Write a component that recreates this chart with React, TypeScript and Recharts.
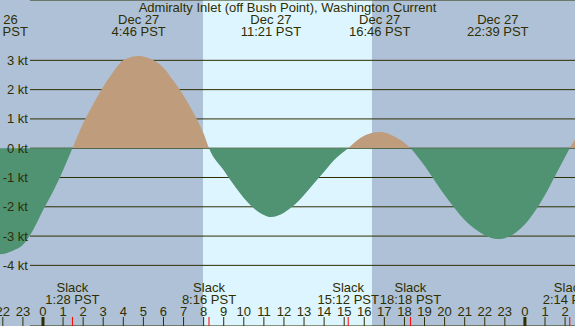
import { ComposedChart, Area, Scatter, XAxis, YAxis, CartesianGrid } from "recharts";

const W = 575;
const H = 326;
const INK = "#2e2e02";
const NIGHT = "#afc1d6";
const DAY = "#ddf5fe";
const FLOOD = "#bf9c7c";
const EBB = "#4f9373";
const FONT = '"Liberation Sans", Arial, sans-serif';

const TITLE = "Admiralty Inlet (off Bush Point), Washington Current";

// hours since Dec 27 00:00 PST, current in knots
const hours = [
  -2.6, -2.17, -1.5, -1, -0.5, 0, 0.5, 1, 1.467, 2, 2.5, 3, 3.5, 4, 4.767, 5.5, 6, 6.5, 7, 7.5, 8,
  8.267, 9, 9.5, 10, 10.5, 11, 11.35, 12, 12.5, 13, 13.5, 14, 14.5, 15.2, 15.8, 16.767, 17.5, 18.3,
  19, 19.5, 20, 20.5, 21, 21.5, 22, 22.65, 23, 23.5, 24, 24.5, 25, 25.5, 26, 26.233, 26.8,
];
const knots = [
  -3.6, -3.62, -3.5, -3.3, -2.8, -2.12, -1.48, -0.75, 0, 0.85, 1.5, 2.1, 2.6, 3.0, 3.15, 3.0, 2.75,
  2.3, 1.8, 1.2, 0.5, 0, -0.75, -1.25, -1.7, -2.05, -2.28, -2.35, -2.2, -1.95, -1.6, -1.2, -0.8, -0.4,
  0, 0.35, 0.55, 0.4, 0, -0.6, -1.1, -1.6, -2.05, -2.45, -2.75, -2.97, -3.1, -3.07, -2.9, -2.6, -2.15,
  -1.6, -0.95, -0.3, 0, 0.65,
];

const hourTicks = [
  -2, -1, 0, 1, 2, 3, 4, 5, 6, 7, 8, 9, 10, 11, 12, 13, 14, 15, 16, 17, 18, 19, 20, 21, 22, 23, 24,
  25, 26,
];
const knotTicks = [-4, -3, -2, -1, 0, 1, 2, 3];

const slackTimes = [1.467, 8.267, 15.2, 18.3, 26.233];
const slackLabels = ["1:28 PST", "8:16 PST", "15:12 PST", "18:18 PST", "2:14 PST"];

const peakTimes = [-2.283, 4.767, 11.35, 16.767, 22.65];
const peakDates = ["Dec 26", "Dec 27", "Dec 27", "Dec 27", "Dec 27"];
const peakLabels = ["21:43 PST", "4:46 PST", "11:21 PST", "16:46 PST", "22:39 PST"];

const daylight = [7.97, 16.38]; // sunrise, sunset

const X_MIN = -2.141;
const X_MAX = 26.494;
const Y_MIN = -6.07;
const Y_MAX = 5.06;

const data = hours.map((h, i) => ({ h, v: knots[i] }));
const slackData = slackTimes.map((h, i) => ({ h, y: Y_MIN, label: slackLabels[i] }));
const peakData = peakTimes.map((h, i) => ({ h, y: Y_MAX, date: peakDates[i], label: peakLabels[i] }));

const txt = { fontFamily: FONT, fontSize: 13, fill: INK };

function callScale(scale: any, v: number) {
  if (typeof scale === "function") return scale(v);
  if (scale && typeof scale.map === "function") return scale.map(v);
  return 0;
}

function HourTick(p: any) {
  const h = p.payload.value as number;
  const hh = ((h % 24) + 24) % 24;
  return (
    <g>
      {hh === 0 ? (
        <rect x={p.x - 1.5} y={p.y - 9} width={3} height={9} fill={INK} />
      ) : (
        <line x1={p.x} x2={p.x} y1={p.y - 9} y2={p.y} stroke={INK} />
      )}
      <text x={p.x} y={p.y - 10} textAnchor="middle" {...txt}>
        {hh}
      </text>
    </g>
  );
}

function KnotTick(p: any) {
  return (
    <text x={28} y={p.y + 4.5} textAnchor="end" {...txt}>
      {`${p.payload.value} kt`}
    </text>
  );
}

function SlackMark(p: any) {
  return (
    <g>
      <line x1={p.cx} x2={p.cx} y1={p.cy - 9} y2={p.cy} stroke="#ff0000" />
      <text x={p.cx} y={p.cy - 34.5} textAnchor="middle" {...txt}>
        Slack
      </text>
      <text x={p.cx} y={p.cy - 22} textAnchor="middle" {...txt}>
        {p.payload.label}
      </text>
    </g>
  );
}

function PeakMark(p: any) {
  return (
    <g>
      <text x={p.cx} y={p.cy + 24} textAnchor="middle" {...txt}>
        {p.payload.date}
      </text>
      <text x={p.cx} y={p.cy + 36} textAnchor="middle" {...txt}>
        {p.payload.label}
      </text>
    </g>
  );
}

export default function App() {
  const zero = Y_MAX / (Y_MAX - Y_MIN);
  return (
    <div style={{ position: "absolute", left: 0, top: 0, width: W, height: H, background: NIGHT }}>
      <ComposedChart width={W} height={H} data={data} margin={{ top: 0, right: 0, bottom: 0, left: 0 }}>
        <defs>
          <linearGradient id="currentFill" gradientUnits="userSpaceOnUse" x1="0" y1="0" x2="0" y2={H}>
            <stop offset={zero} stopColor={FLOOD} />
            <stop offset={zero} stopColor={EBB} />
          </linearGradient>
        </defs>
        <CartesianGrid
          vertical={() => <g />}
          verticalFill={[NIGHT, DAY, NIGHT]}
          fillOpacity={1}
          verticalCoordinatesGenerator={({ xAxis }: any) => daylight.map((h) => callScale(xAxis.scale, h))}
          horizontal={(g: any) => (
            <line key={g.key} x1={g.x1 + 30} y1={g.y1} x2={g.x2} y2={g.y2} stroke={INK} strokeWidth={1} />
          )}
        />
        <XAxis
          type="number"
          dataKey="h"
          domain={[X_MIN, X_MAX]}
          allowDataOverflow
          ticks={hourTicks}
          interval={0}
          mirror
          height={20}
          tickSize={0}
          tickMargin={0}
          axisLine={false}
          tick={HourTick}
        />
        <YAxis
          type="number"
          domain={[Y_MIN, Y_MAX]}
          allowDataOverflow
          ticks={knotTicks}
          interval={0}
          mirror
          width={30}
          axisLine={false}
          tickLine={false}
          tick={KnotTick}
        />
        <Area
          type="monotone"
          dataKey="v"
          baseValue={0}
          stroke="none"
          fill="url(#currentFill)"
          fillOpacity={1}
          dot={false}
          activeDot={false}
          isAnimationActive={false}
        />
        <Scatter data={slackData} dataKey="y" shape={SlackMark} isAnimationActive={false} />
        <Scatter data={peakData} dataKey="y" shape={PeakMark} isAnimationActive={false} />
      </ComposedChart>
      <div
        style={{
          position: "absolute",
          left: 0,
          top: 0,
          width: W,
          textAlign: "center",
          fontFamily: FONT,
          fontSize: 13,
          lineHeight: "15px",
          color: INK,
        }}
      >
        {TITLE}
      </div>
    </div>
  );
}
